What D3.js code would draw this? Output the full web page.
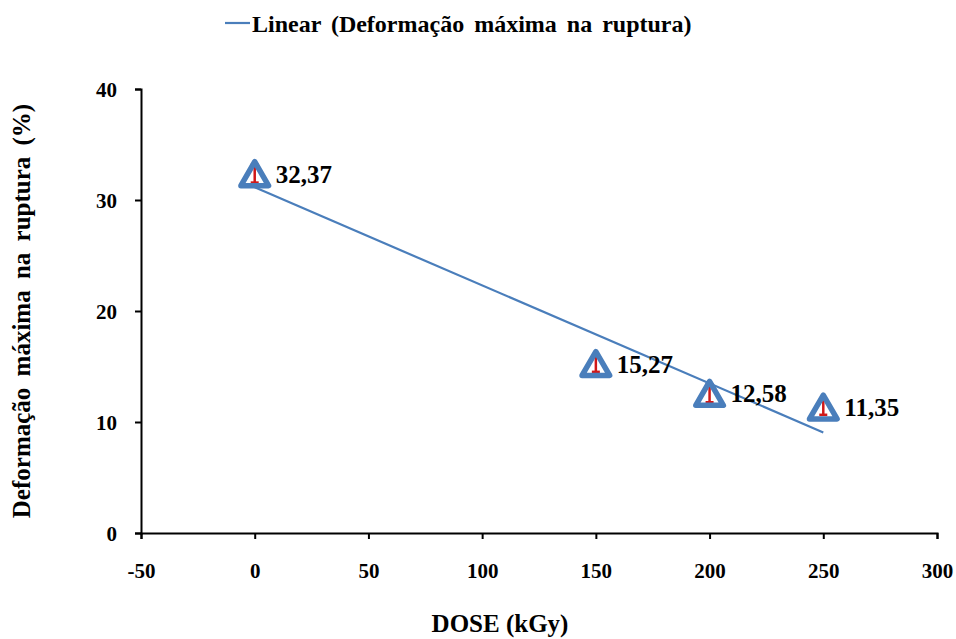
<!DOCTYPE html>
<html>
<head>
<meta charset="utf-8">
<script src="https://cdn.jsdelivr.net/npm/d3@7"></script>
<style>
    body { margin: 0; background: #fff; }
</style>
</head>
<body>
<div class="chart"></div>
<script>
const doses = [0, 150, 200, 250];
const deformacao = [32.37, 15.27, 12.58, 11.35];
const erros = [0.8, 0.75, 0.8, 0.7];
const pointLabels = ["32,37", "15,27", "12,58", "11,35"];
const xTicks = [-50, 0, 50, 100, 150, 200, 250, 300];
const yTicks = [0, 10, 20, 30, 40];

const width = 956;
const height = 639;
const margin = { left: 141, right: 19, top: 89, bottom: 106 };
const blue = "#4a7ebb";
const serif = "Liberation Serif";

function linearFit(xs, ys) {
    let mx = d3.mean(xs), my = d3.mean(ys);
    let sxy = d3.sum(xs, (x, i) => (x - mx) * (ys[i] - my));
    let sxx = d3.sum(xs, x => (x - mx) * (x - mx));
    let slope = sxy / sxx;
    return { slope: slope, intercept: my - slope * mx };
}

function styleText(sel, size) {
    sel.attr("font-family", serif)
        .attr("font-weight", "bold")
        .attr("font-size", size)
        .attr("fill", "#000");
}

function drawChart() {
    const svg = d3.select('.chart')
        .append('svg')
        .attr('width', width)
        .attr('height', height);

    const x = d3.scaleLinear().domain([-50, 300]).range([margin.left, width - margin.right]);
    const y = d3.scaleLinear().domain([0, 40]).range([height - margin.bottom, margin.top]);

    // axes
    const xAxis = svg.append("g")
        .attr("transform", "translate(0," + y(0) + ")")
        .call(d3.axisBottom(x).tickValues(xTicks).tickSize(6).tickFormat(d => String(d)));
    const yAxis = svg.append("g")
        .attr("transform", "translate(" + x(-50) + ",0)")
        .call(d3.axisLeft(y).tickValues(yTicks).tickSize(6).tickPadding(18));
    [xAxis, yAxis].forEach(a => {
        a.attr("font-family", serif);
        a.select(".domain").attr("stroke", "#000").attr("stroke-width", 2);
        a.selectAll(".tick line").attr("stroke", "#000").attr("stroke-width", 2);
        a.selectAll(".tick text").call(styleText, 21);
    });
    xAxis.selectAll(".tick text").attr("y", 45).attr("dy", 0);
    yAxis.selectAll(".tick text").attr("dy", "0.34em");

    // trend line
    const fit = linearFit(doses, deformacao);
    const xr = d3.extent(doses);
    svg.append("line")
        .attr("x1", x(xr[0])).attr("y1", y(fit.intercept + fit.slope * xr[0]))
        .attr("x2", x(xr[1])).attr("y2", y(fit.intercept + fit.slope * xr[1]))
        .attr("stroke", blue).attr("stroke-width", 2.2);

    // error bars
    const eb = svg.selectAll(".err")
        .data(doses)
        .enter()
        .append("g")
        .attr("class", "err")
        .attr("stroke", "#d01818")
        .attr("stroke-width", 2.5);
    eb.append("line")
        .attr("x1", d => x(d)).attr("x2", d => x(d))
        .attr("y1", (d, i) => y(deformacao[i] + erros[i]))
        .attr("y2", (d, i) => y(deformacao[i] - erros[i]));
    eb.append("line")
        .attr("x1", d => x(d) - 4).attr("x2", d => x(d) + 4)
        .attr("y1", (d, i) => y(deformacao[i] - erros[i]))
        .attr("y2", (d, i) => y(deformacao[i] - erros[i]));
    eb.append("line")
        .attr("x1", d => x(d) - 4).attr("x2", d => x(d) + 4)
        .attr("y1", (d, i) => y(deformacao[i] + erros[i]))
        .attr("y2", (d, i) => y(deformacao[i] + erros[i]));

    // markers (centred on their bounding box, like the spreadsheet does)
    const triSize = 330;
    const triH = Math.sqrt(triSize * Math.sqrt(3));
    const tri = d3.symbol().type(d3.symbolTriangle).size(triSize);
    svg.selectAll(".marker")
        .data(doses)
        .enter()
        .append("path")
        .attr("class", "marker")
        .attr("d", tri)
        .attr("transform", (d, i) => "translate(" + x(d) + "," + (y(deformacao[i]) + triH / 6) + ")")
        .attr("fill", "none")
        .attr("stroke", blue)
        .attr("stroke-width", 5.5)
        .attr("stroke-linejoin", "round");

    // data labels
    svg.selectAll(".data-label")
        .data(doses)
        .enter()
        .append("text")
        .attr("class", "data-label")
        .attr("x", d => x(d) + 21)
        .attr("y", (d, i) => y(deformacao[i]) + 9)
        .text((d, i) => pointLabels[i])
        .call(styleText, 25);

    // axis titles
    svg.append("text")
        .attr("text-anchor", "middle")
        .attr("x", 500).attr("y", 632)
        .text("DOSE (kGy)")
        .call(styleText, 25);
    svg.append("text")
        .attr("text-anchor", "middle")
        .attr("transform", "translate(30,311) rotate(-90)")
        .attr("word-spacing", 5)
        .text("Deformação máxima na ruptura (%)")
        .call(styleText, 25);

    // legend
    svg.append("line")
        .attr("x1", 225).attr("x2", 250)
        .attr("y1", 23).attr("y2", 23)
        .attr("stroke", blue).attr("stroke-width", 2.2);
    svg.append("text")
        .attr("x", 252).attr("y", 32)
        .attr("word-spacing", 4)
        .text("Linear (Deformação máxima na ruptura)")
        .call(styleText, 24);
}

drawChart();
</script>
</body>
</html>
